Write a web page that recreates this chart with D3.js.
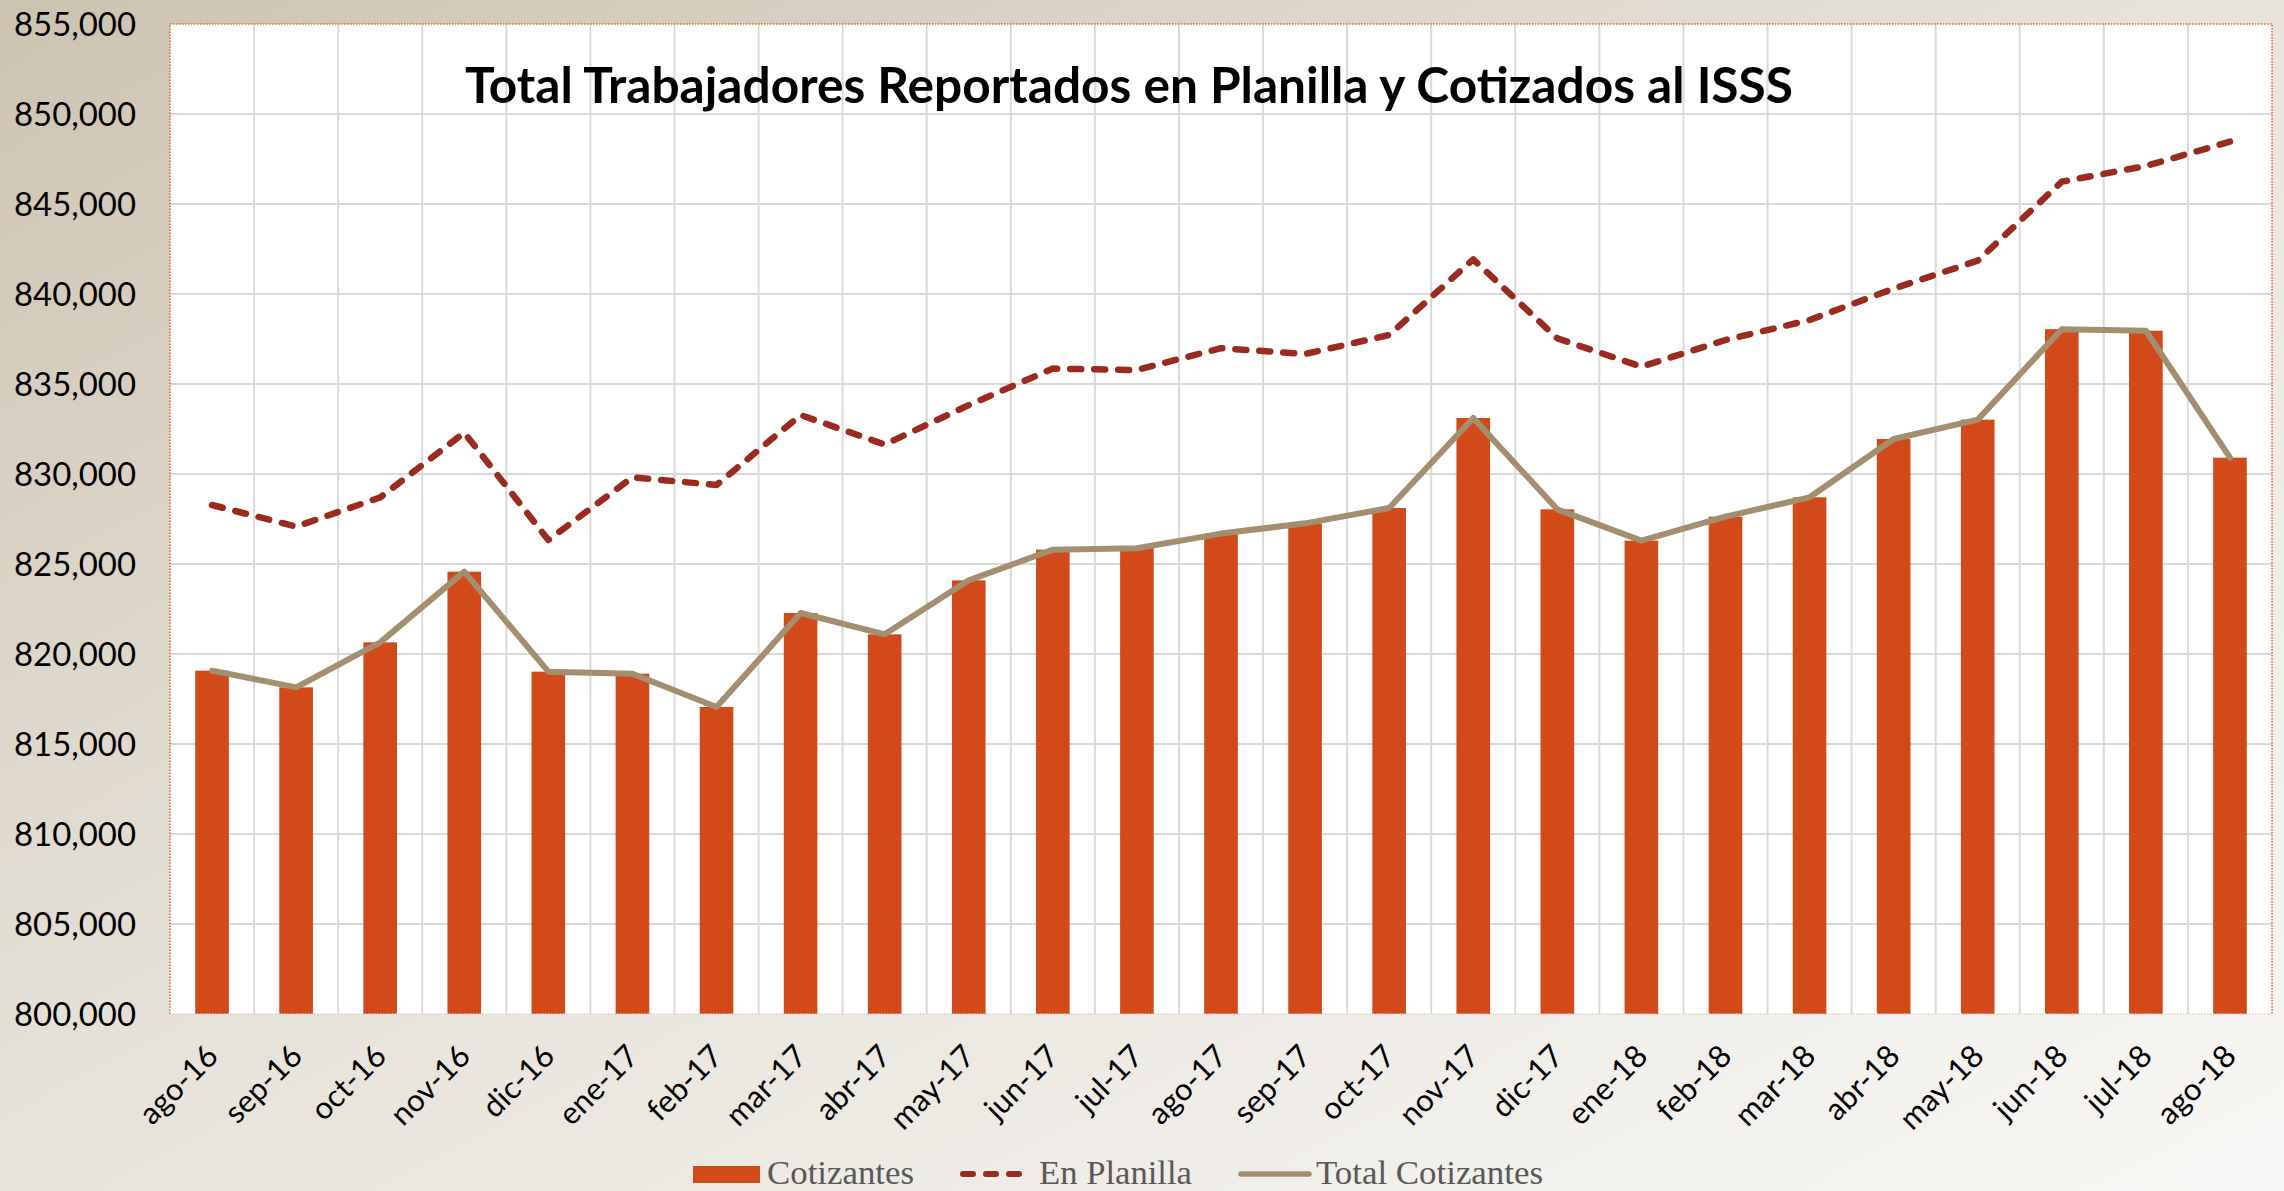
<!DOCTYPE html>
<html>
<head>
<meta charset="utf-8">
<script src="https://cdn.jsdelivr.net/npm/d3@7"></script>
<style>
  html, body { margin: 0; padding: 0; background: #fff; }
  svg { display: block; }
</style>
</head>
<body>
<svg id="chart" width="2284" height="1191"></svg>
<script>
const categories = ["ago-16","sep-16","oct-16","nov-16","dic-16","ene-17","feb-17","mar-17","abr-17","may-17","jun-17","jul-17","ago-17","sep-17","oct-17","nov-17","dic-17","ene-18","feb-18","mar-18","abr-18","may-18","jun-18","jul-18","ago-18"];
const cotizantes = [819074,818148,820648,824574,819019,818907,817056,822278,821092,824093,825797,825878,826689,827259,828111,833111,828037,826296,827630,828704,831944,833019,838046,837960,830907];
const enPlanilla = [828278,827074,828700,832296,826333,829815,829389,833278,831637,833828,835856,835775,836991,836667,837722,841926,837537,835963,837444,838556,840300,841850,846241,847111,848463];
const totalCotizantes = [819074,818148,820648,824574,819019,818907,817056,822278,821092,824093,825797,825878,826689,827259,828111,833111,828037,826296,827630,828704,831944,833019,838046,837960,830907];
const yTicks = [800000,805000,810000,815000,820000,825000,830000,835000,840000,845000,850000,855000];
const titleText = "Total Trabajadores Reportados en Planilla y Cotizados al ISSS";
const legendLabels = ["Cotizantes","En Planilla","Total Cotizantes"];

const W = 2284, H = 1191;
const plot = {left: 170, right: 2272, top: 24, bottom: 1014};
const svg = d3.select("#chart");

// background gradient
const defs = svg.append("defs");
const grad = defs.append("linearGradient").attr("id","bg")
  .attr("x1","0").attr("y1","0").attr("x2","1").attr("y2","1");
grad.append("stop").attr("offset","0").attr("stop-color","#cdc3b1");
grad.append("stop").attr("offset","0.5").attr("stop-color","#e8e4dc");
grad.append("stop").attr("offset","1").attr("stop-color","#f8f7f5");
svg.append("rect").attr("width",W).attr("height",H).attr("fill","url(#bg)");

const x = d3.scaleBand().domain(categories)
  .range([plot.left, plot.right]).paddingInner(0.6).paddingOuter(0.3);
const y = d3.scaleLinear().domain([800000, 855000]).range([plot.bottom, plot.top]);
const step = x.step();

// plot background
svg.append("rect").attr("x",plot.left).attr("y",plot.top)
  .attr("width",plot.right-plot.left).attr("height",plot.bottom-plot.top)
  .attr("fill","#ffffff");

// gridlines
const grid = svg.append("g");
grid.selectAll("line.h").data(yTicks.slice(1,-1)).join("line")
  .attr("x1",plot.left).attr("x2",plot.right)
  .attr("y1",d=>y(d)).attr("y2",d=>y(d))
  .attr("stroke","#d9d9d9").attr("stroke-width",2);
grid.selectAll("line.v").data(categories.slice(1)).join("line")
  .attr("x1",d=>x(d)-x.paddingOuter()*step).attr("x2",d=>x(d)-x.paddingOuter()*step)
  .attr("y1",plot.top).attr("y2",plot.bottom)
  .attr("stroke","#d9d9d9").attr("stroke-width",2);

// bars
svg.append("g").selectAll("rect").data(cotizantes).join("rect")
  .attr("x",(d,i)=>x(categories[i]))
  .attr("width",x.bandwidth())
  .attr("y",d=>y(d))
  .attr("height",d=>y(800000)-y(d))
  .attr("fill","#d34a1a");

// border (dotted)
svg.append("path")
  .attr("d",`M${plot.left},${plot.bottom} L${plot.left},${plot.top} L${plot.right},${plot.top} L${plot.right},${plot.bottom}`)
  .attr("fill","none").attr("stroke","#e8552a").attr("stroke-width",1.5)
  .attr("stroke-dasharray","1.5,1.5");
svg.append("line").attr("x1",plot.left).attr("x2",plot.right)
  .attr("y1",plot.bottom).attr("y2",plot.bottom)
  .attr("stroke","#d9cfcc").attr("stroke-width",1.5).attr("stroke-dasharray","1.5,1.5");

const cx = i => x(categories[i]) + x.bandwidth()/2;

// En Planilla dashed line
const line = d3.line().x((d,i)=>cx(i)).y(d=>y(d));
svg.append("path").datum(enPlanilla).attr("d",line)
  .attr("fill","none").attr("stroke","#9c2b1f").attr("stroke-width",6.5)
  .attr("stroke-linecap","round").attr("stroke-linejoin","round")
  .attr("stroke-dasharray","11,13");

// Total Cotizantes line
svg.append("path").datum(totalCotizantes).attr("d",line)
  .attr("fill","none").attr("stroke","#a38f6f").attr("stroke-width",6)
  .attr("stroke-linecap","round").attr("stroke-linejoin","round");

// y axis labels
const fmt = d3.format(",");
svg.append("g").selectAll("text").data(yTicks).join("text")
  .attr("x",136).attr("y",d=>y(d)).attr("dy","0.36em")
  .attr("text-anchor","end")
  .attr("font-family","Lato, 'Open Sans', sans-serif")
  .attr("font-size",33).attr("fill","#000")
  .attr("textLength",122).attr("lengthAdjust","spacingAndGlyphs")
  .text(d=>fmt(d));

// x axis labels
svg.append("g").selectAll("text").data(categories).join("text")
  .attr("text-anchor","end")
  .attr("transform",(d,i)=>`translate(${cx(i)+8},${1058}) rotate(-45)`)
  .attr("font-family","Lato, 'Open Sans', sans-serif")
  .attr("font-size",31).attr("fill","#000")
  .text(d=>d);

// title
svg.append("text").attr("x",465).attr("y",103)
  .attr("font-family","Lato, 'Open Sans', sans-serif")
  .attr("font-weight",700).attr("font-size",50).attr("fill","#000")
  .attr("textLength",1328).attr("lengthAdjust","spacingAndGlyphs")
  .text(titleText);

// legend
const lg = svg.append("g");
const ly = 1174;
lg.append("rect").attr("x",693).attr("y",1166).attr("width",67).attr("height",17).attr("fill","#d34a1a");
lg.append("line").attr("x1",963).attr("x2",1024).attr("y1",ly).attr("y2",ly)
  .attr("stroke","#9c2b1f").attr("stroke-width",6).attr("stroke-linecap","round")
  .attr("stroke-dasharray","10,13");
lg.append("line").attr("x1",1241).attr("x2",1309).attr("y1",ly).attr("y2",ly)
  .attr("stroke","#a38f6f").attr("stroke-width",5.5).attr("stroke-linecap","round");
const legX = [767, 1039, 1316];
const legW = [147, 153, 227];
lg.selectAll("text").data(legendLabels).join("text")
  .attr("x",(d,i)=>legX[i]).attr("y",1184)
  .attr("font-family","'Liberation Serif', 'DejaVu Serif', serif")
  .attr("font-size",33).attr("fill","#595959")
  .attr("textLength",(d,i)=>legW[i]).attr("lengthAdjust","spacingAndGlyphs")
  .text(d=>d);
</script>
</body>
</html>
